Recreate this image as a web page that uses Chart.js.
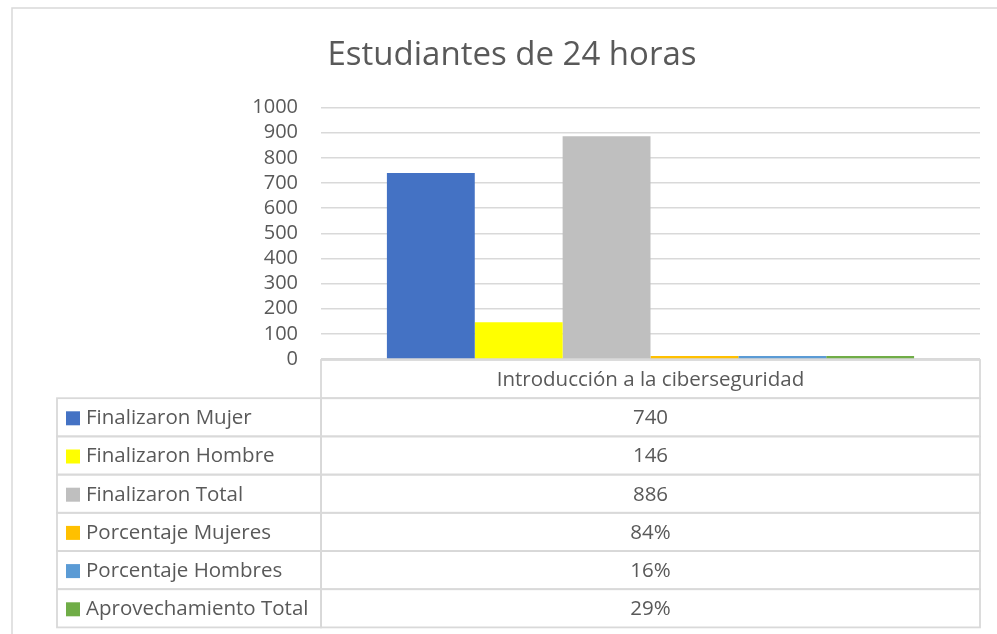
<!DOCTYPE html>
<html>
<head>
<meta charset="utf-8">
<script src="https://cdn.jsdelivr.net/npm/chart.js@4/dist/chart.umd.min.js"></script>
<style>
  body { margin: 0; background: #fff; }
  #chart { display: block; }
</style>
</head>
<body>
<canvas id="chart" width="997" height="634"></canvas>
<script>
// data
const categories = ['Introducción a la ciberseguridad'];
const seriesNames = ['Finalizaron Mujer', 'Finalizaron Hombre', 'Finalizaron Total',
  'Porcentaje Mujeres', 'Porcentaje Hombres', 'Aprovechamiento Total'];
const finalizaronMujer = [740];
const finalizaronHombre = [146];
const finalizaronTotal = [886];
const porcentajeMujeres = [0.84];
const porcentajeHombres = [0.16];
const aprovechamientoTotal = [0.29];
const yTicks = [0, 100, 200, 300, 400, 500, 600, 700, 800, 900, 1000];

const seriesColors = ['#4472C4', '#FFFF00', '#BFBFBF', '#FFC000', '#5B9BD5', '#70AD47'];
const isPercent = [false, false, false, true, true, true];
const allSeries = [finalizaronMujer, finalizaronHombre, finalizaronTotal,
  porcentajeMujeres, porcentajeHombres, aprovechamientoTotal];

const textColor = '#595959';
const lineColor = '#d9d9d9';
const fontFamily = '"Open Sans", sans-serif';

function fmt(v, pct) {
  return pct ? Math.round(v * 100) + '%' : String(v);
}

// outer frame of the chart object
const frame = {
  id: 'frame',
  beforeDraw(chart) {
    const ctx = chart.ctx;
    ctx.save();
    ctx.strokeStyle = lineColor;
    ctx.lineWidth = 1.5;
    ctx.beginPath();
    ctx.moveTo(12, chart.height);
    ctx.lineTo(12, 8);
    ctx.lineTo(chart.width, 8);
    ctx.stroke();
    ctx.restore();
  }
};

// excel style data table under the plot
const dataTable = {
  id: 'dataTable',
  afterDraw(chart) {
    const ctx = chart.ctx;
    const area = chart.chartArea;
    const rowH = 38.2;
    const left = 57;
    const top = area.bottom + 1;
    const rows = chart.data.datasets.length;
    ctx.save();
    ctx.strokeStyle = lineColor;
    ctx.lineWidth = 1.8;

    // header cell
    ctx.strokeRect(area.left, top, area.right - area.left, rowH);
    // series rows
    for (let i = 0; i < rows; i++) {
      const y = top + rowH * (i + 1);
      ctx.strokeRect(left, y, area.left - left, rowH);
      ctx.strokeRect(area.left, y, area.right - area.left, rowH);
    }

    ctx.font = '20.5px ' + fontFamily;
    ctx.fillStyle = textColor;
    ctx.textBaseline = 'middle';
    ctx.textAlign = 'center';
    const midX = (area.left + area.right) / 2;
    ctx.fillText(chart.data.labels[0], midX, top + rowH / 2 + 1);

    chart.data.datasets.forEach((ds, i) => {
      const cy = top + rowH * (i + 1) + rowH / 2 + 1;
      ctx.fillStyle = ds.backgroundColor;
      ctx.fillRect(66, cy - 7, 14, 14);
      ctx.fillStyle = textColor;
      ctx.textAlign = 'left';
      ctx.fillText(ds.label, 86, cy);
      ctx.textAlign = 'center';
      ctx.fillText(fmt(ds.data[0], isPercent[i]), midX, cy);
    });
    ctx.restore();
  }
};

const datasets = seriesNames.map((name, i) => ({
  label: name,
  data: allSeries[i],
  backgroundColor: seriesColors[i],
  borderWidth: 0,
  minBarLength: isPercent[i] ? 3 : 0,
  categoryPercentage: 0.8,
  barPercentage: 1.0
}));

new Chart(document.getElementById('chart'), {
  type: 'bar',
  data: { labels: categories, datasets: datasets },
  options: {
    responsive: false,
    animation: false,
    layout: { padding: { top: 10, left: 44, right: 17, bottom: 275 } },
    plugins: {
      legend: { display: false },
      tooltip: { enabled: false },
      title: {
        display: true,
        text: 'Estudiantes de 24 horas',
        color: textColor,
        font: { family: fontFamily, size: 33, weight: 'normal' },
        padding: { top: 26, bottom: 32 }
      }
    },
    scales: {
      x: { display: false },
      y: {
        min: yTicks[0],
        max: yTicks[yTicks.length - 1],
        afterFit(scale) { scale.width = 321 - 44; },
        border: { display: false },
        grid: { color: lineColor, lineWidth: 1.5, drawTicks: false },
        ticks: {
          stepSize: yTicks[1] - yTicks[0],
          autoSkip: false,
          color: textColor,
          padding: 23,
          font: { family: fontFamily, size: 20 },
          callback: v => String(v)
        }
      }
    }
  },
  plugins: [frame, dataTable]
});
</script>
</body>
</html>
